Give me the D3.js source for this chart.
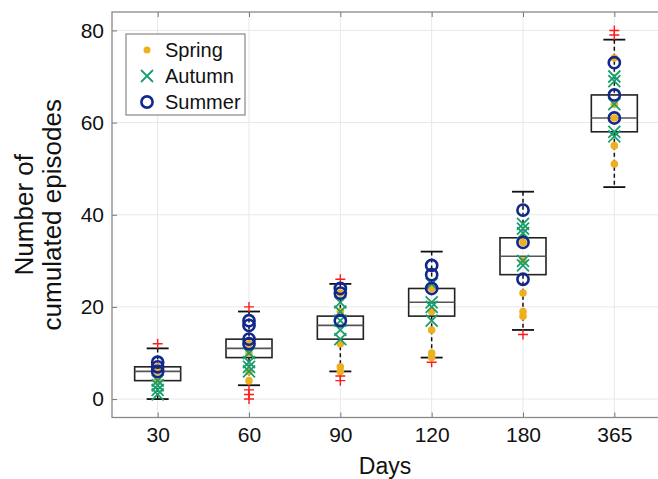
<!DOCTYPE html>
<html>
<head>
<meta charset="utf-8">
<script src="https://cdn.jsdelivr.net/npm/d3@7"></script>
<style>
  body { margin: 0; background: #fff; }
  svg { display: block; font-family: "Liberation Sans", Arial, sans-serif; }
</style>
</head>
<body>
<div id="viz"></div>
<script>
// Categories and box statistics
const days = ["30", "60", "90", "120", "180", "365"];
const q1 = [4, 9, 13, 18, 27, 58];
const median = [6, 11, 16, 21, 31, 61];
const q3 = [7, 13, 18, 24, 35, 66];
const whiskerLow = [0, 3, 6, 9, 15, 46];
const whiskerHigh = [11, 19, 25, 32, 45, 78];
const outliers = [[12], [20, 2, 1, 0], [26, 5, 4], [8], [14], [80, 79]];

// Individual values per season
const spring = [[4, 6, 7], [4, 6, 10, 12], [6, 7, 12, 19, 23], [9, 10, 15, 19, 24], [18, 19, 23, 30, 34], [51, 55, 61, 64, 74]];
const autumn = [[1, 2, 3, 4], [6, 7, 8, 10], [13, 15, 17, 19, 21], [17, 20, 21, 25], [29, 30, 36, 37, 38], [57, 58, 64, 69, 70]];
const summer = [[6, 7, 8], [12, 13, 16, 17], [17, 23, 24], [24, 27, 29], [26, 34, 41], [61, 66, 73]];

const yTicks = [0, 20, 40, 60, 80];

const width = 658;
const height = 479;
const plot = { left: 112, right: 660, top: 12, bottom: 417.5 };

const colors = { spring: "#EDB120", autumn: "#1a9e6c", summer: "#13288f", outlier: "#ff1a1a" };

const svg = d3.select("#viz")
    .append("svg")
    .attr("width", width)
    .attr("height", height);

svg.append("rect").attr("width", width).attr("height", height).attr("fill", "#fff");

const x = d3.scalePoint()
    .domain(days)
    .range([plot.left, plot.right])
    .padding(0.5);

const y = d3.scaleLinear()
    .domain([-4, 84])
    .range([plot.bottom, plot.top]);

// Grid lines
svg.append("g")
    .selectAll("line")
    .data(yTicks)
    .join("line")
    .attr("x1", plot.left).attr("x2", plot.right)
    .attr("y1", d => y(d)).attr("y2", d => y(d))
    .attr("stroke", "#e8e8e8").attr("stroke-width", 1);

svg.append("g")
    .selectAll("line")
    .data(days)
    .join("line")
    .attr("x1", d => x(d)).attr("x2", d => x(d))
    .attr("y1", plot.top).attr("y2", plot.bottom)
    .attr("stroke", "#e8e8e8").attr("stroke-width", 1);

// Axes
const yAxis = svg.append("g")
    .attr("transform", `translate(${plot.left},0)`)
    .call(d3.axisLeft(y).tickValues(yTicks).tickSize(-5).tickPadding(8));

const xAxis = svg.append("g")
    .attr("transform", `translate(0,${plot.bottom})`)
    .call(d3.axisBottom(x).tickSize(-5).tickPadding(10));

// Top ticks (mirror)
svg.append("g")
    .attr("transform", `translate(0,${plot.top})`)
    .call(d3.axisTop(x).tickSize(-5).tickFormat(""));

[yAxis, xAxis].forEach(a => {
    a.selectAll("text").style("font-size", "21px").attr("fill", "#111");
});
svg.selectAll(".domain").remove();
svg.selectAll(".tick line").attr("stroke", "#777").attr("stroke-width", 1);

// Axes box
svg.append("rect")
    .attr("x", plot.left).attr("y", plot.top)
    .attr("width", plot.right - plot.left).attr("height", plot.bottom - plot.top)
    .attr("fill", "none").attr("stroke", "#888").attr("stroke-width", 1.3);

// Boxplots
const boxW = 46, capW = 22;
const groups = svg.append("g")
    .selectAll("g")
    .data(days.map((d, i) => ({ day: d, i })))
    .join("g");

groups.append("line")
    .attr("x1", d => x(d.day)).attr("x2", d => x(d.day))
    .attr("y1", d => y(whiskerHigh[d.i])).attr("y2", d => y(q3[d.i]))
    .attr("stroke", "#111").attr("stroke-width", 1.5).attr("stroke-dasharray", "4,3");
groups.append("line")
    .attr("x1", d => x(d.day)).attr("x2", d => x(d.day))
    .attr("y1", d => y(q1[d.i])).attr("y2", d => y(whiskerLow[d.i]))
    .attr("stroke", "#111").attr("stroke-width", 1.5).attr("stroke-dasharray", "4,3");
groups.append("line")
    .attr("x1", d => x(d.day) - capW / 2).attr("x2", d => x(d.day) + capW / 2)
    .attr("y1", d => y(whiskerHigh[d.i])).attr("y2", d => y(whiskerHigh[d.i]))
    .attr("stroke", "#111").attr("stroke-width", 1.8);
groups.append("line")
    .attr("x1", d => x(d.day) - capW / 2).attr("x2", d => x(d.day) + capW / 2)
    .attr("y1", d => y(whiskerLow[d.i])).attr("y2", d => y(whiskerLow[d.i]))
    .attr("stroke", "#111").attr("stroke-width", 1.8);
groups.append("rect")
    .attr("x", d => x(d.day) - boxW / 2)
    .attr("y", d => y(q3[d.i]))
    .attr("width", boxW)
    .attr("height", d => y(q1[d.i]) - y(q3[d.i]))
    .attr("fill", "none").attr("stroke", "#222").attr("stroke-width", 1.6);
groups.append("line")
    .attr("x1", d => x(d.day) - boxW / 2).attr("x2", d => x(d.day) + boxW / 2)
    .attr("y1", d => y(median[d.i])).attr("y2", d => y(median[d.i]))
    .attr("stroke", "#555").attr("stroke-width", 1.6);

// Outliers as red plus signs
const plus = (sel, s) => sel.append("path")
    .attr("d", `M${-s},0H${s}M0,${-s}V${s}`);

const outData = outliers.flatMap((vals, i) => vals.map(v => ({ day: days[i], v })));
svg.append("g").selectAll("g")
    .data(outData)
    .join("g")
    .attr("transform", d => `translate(${x(d.day)},${y(d.v)})`)
    .call(sel => plus(sel, 5))
    .select("path")
    .attr("stroke", colors.outlier).attr("stroke-width", 1.4).attr("fill", "none");

// Season points
const flat = arr => arr.flatMap((vals, i) => vals.map(v => ({ day: days[i], v })));

svg.append("g").selectAll("circle")
    .data(flat(spring))
    .join("circle")
    .attr("cx", d => x(d.day)).attr("cy", d => y(d.v))
    .attr("r", 3.8).attr("fill", colors.spring);

svg.append("g").selectAll("path")
    .data(flat(autumn))
    .join("path")
    .attr("transform", d => `translate(${x(d.day)},${y(d.v)})`)
    .attr("d", "M-6,-6L6,6M-6,6L6,-6")
    .attr("stroke", colors.autumn).attr("stroke-width", 1.8).attr("fill", "none");

svg.append("g").selectAll("circle")
    .data(flat(summer))
    .join("circle")
    .attr("cx", d => x(d.day)).attr("cy", d => y(d.v))
    .attr("r", 5.6).attr("fill", "none")
    .attr("stroke", colors.summer).attr("stroke-width", 2.6);

// Legend
const legend = svg.append("g");
legend.append("rect")
    .attr("x", 126).attr("y", 34).attr("width", 119).attr("height", 81)
    .attr("fill", "#fff").attr("stroke", "#888").attr("stroke-width", 1.2);

const legendItems = ["Spring", "Autumn", "Summer"];
const legendY = d3.scalePoint().domain(legendItems).range([50, 102]);
const lx = 147;

legend.append("circle").attr("cx", lx).attr("cy", legendY("Spring")).attr("r", 3.5).attr("fill", colors.spring);
legend.append("path")
    .attr("transform", `translate(${lx},${legendY("Autumn")})`)
    .attr("d", "M-6,-6L6,6M-6,6L6,-6")
    .attr("stroke", colors.autumn).attr("stroke-width", 1.8);
legend.append("circle").attr("cx", lx).attr("cy", legendY("Summer")).attr("r", 5.6)
    .attr("fill", "none").attr("stroke", colors.summer).attr("stroke-width", 2.6);

legend.selectAll("text")
    .data(legendItems)
    .join("text")
    .attr("x", 165)
    .attr("y", d => legendY(d))
    .attr("dy", "0.36em")
    .style("font-size", "20px")
    .attr("fill", "#111")
    .text(d => d);

// Axis labels
svg.append("text")
    .attr("x", (plot.left + 660) / 2 - 1)
    .attr("y", 474)
    .attr("text-anchor", "middle")
    .style("font-size", "23px")
    .attr("fill", "#111")
    .text("Days");

const yLabel = svg.append("text")
    .attr("transform", `translate(0,${(plot.top + plot.bottom) / 2}) rotate(-90)`)
    .attr("text-anchor", "middle")
    .style("font-size", "26px")
    .attr("fill", "#111");
yLabel.append("tspan").attr("x", 0).attr("y", 33).text("Number of");
yLabel.append("tspan").attr("x", 0).attr("y", 61).text("cumulated episodes");
</script>
</body>
</html>
